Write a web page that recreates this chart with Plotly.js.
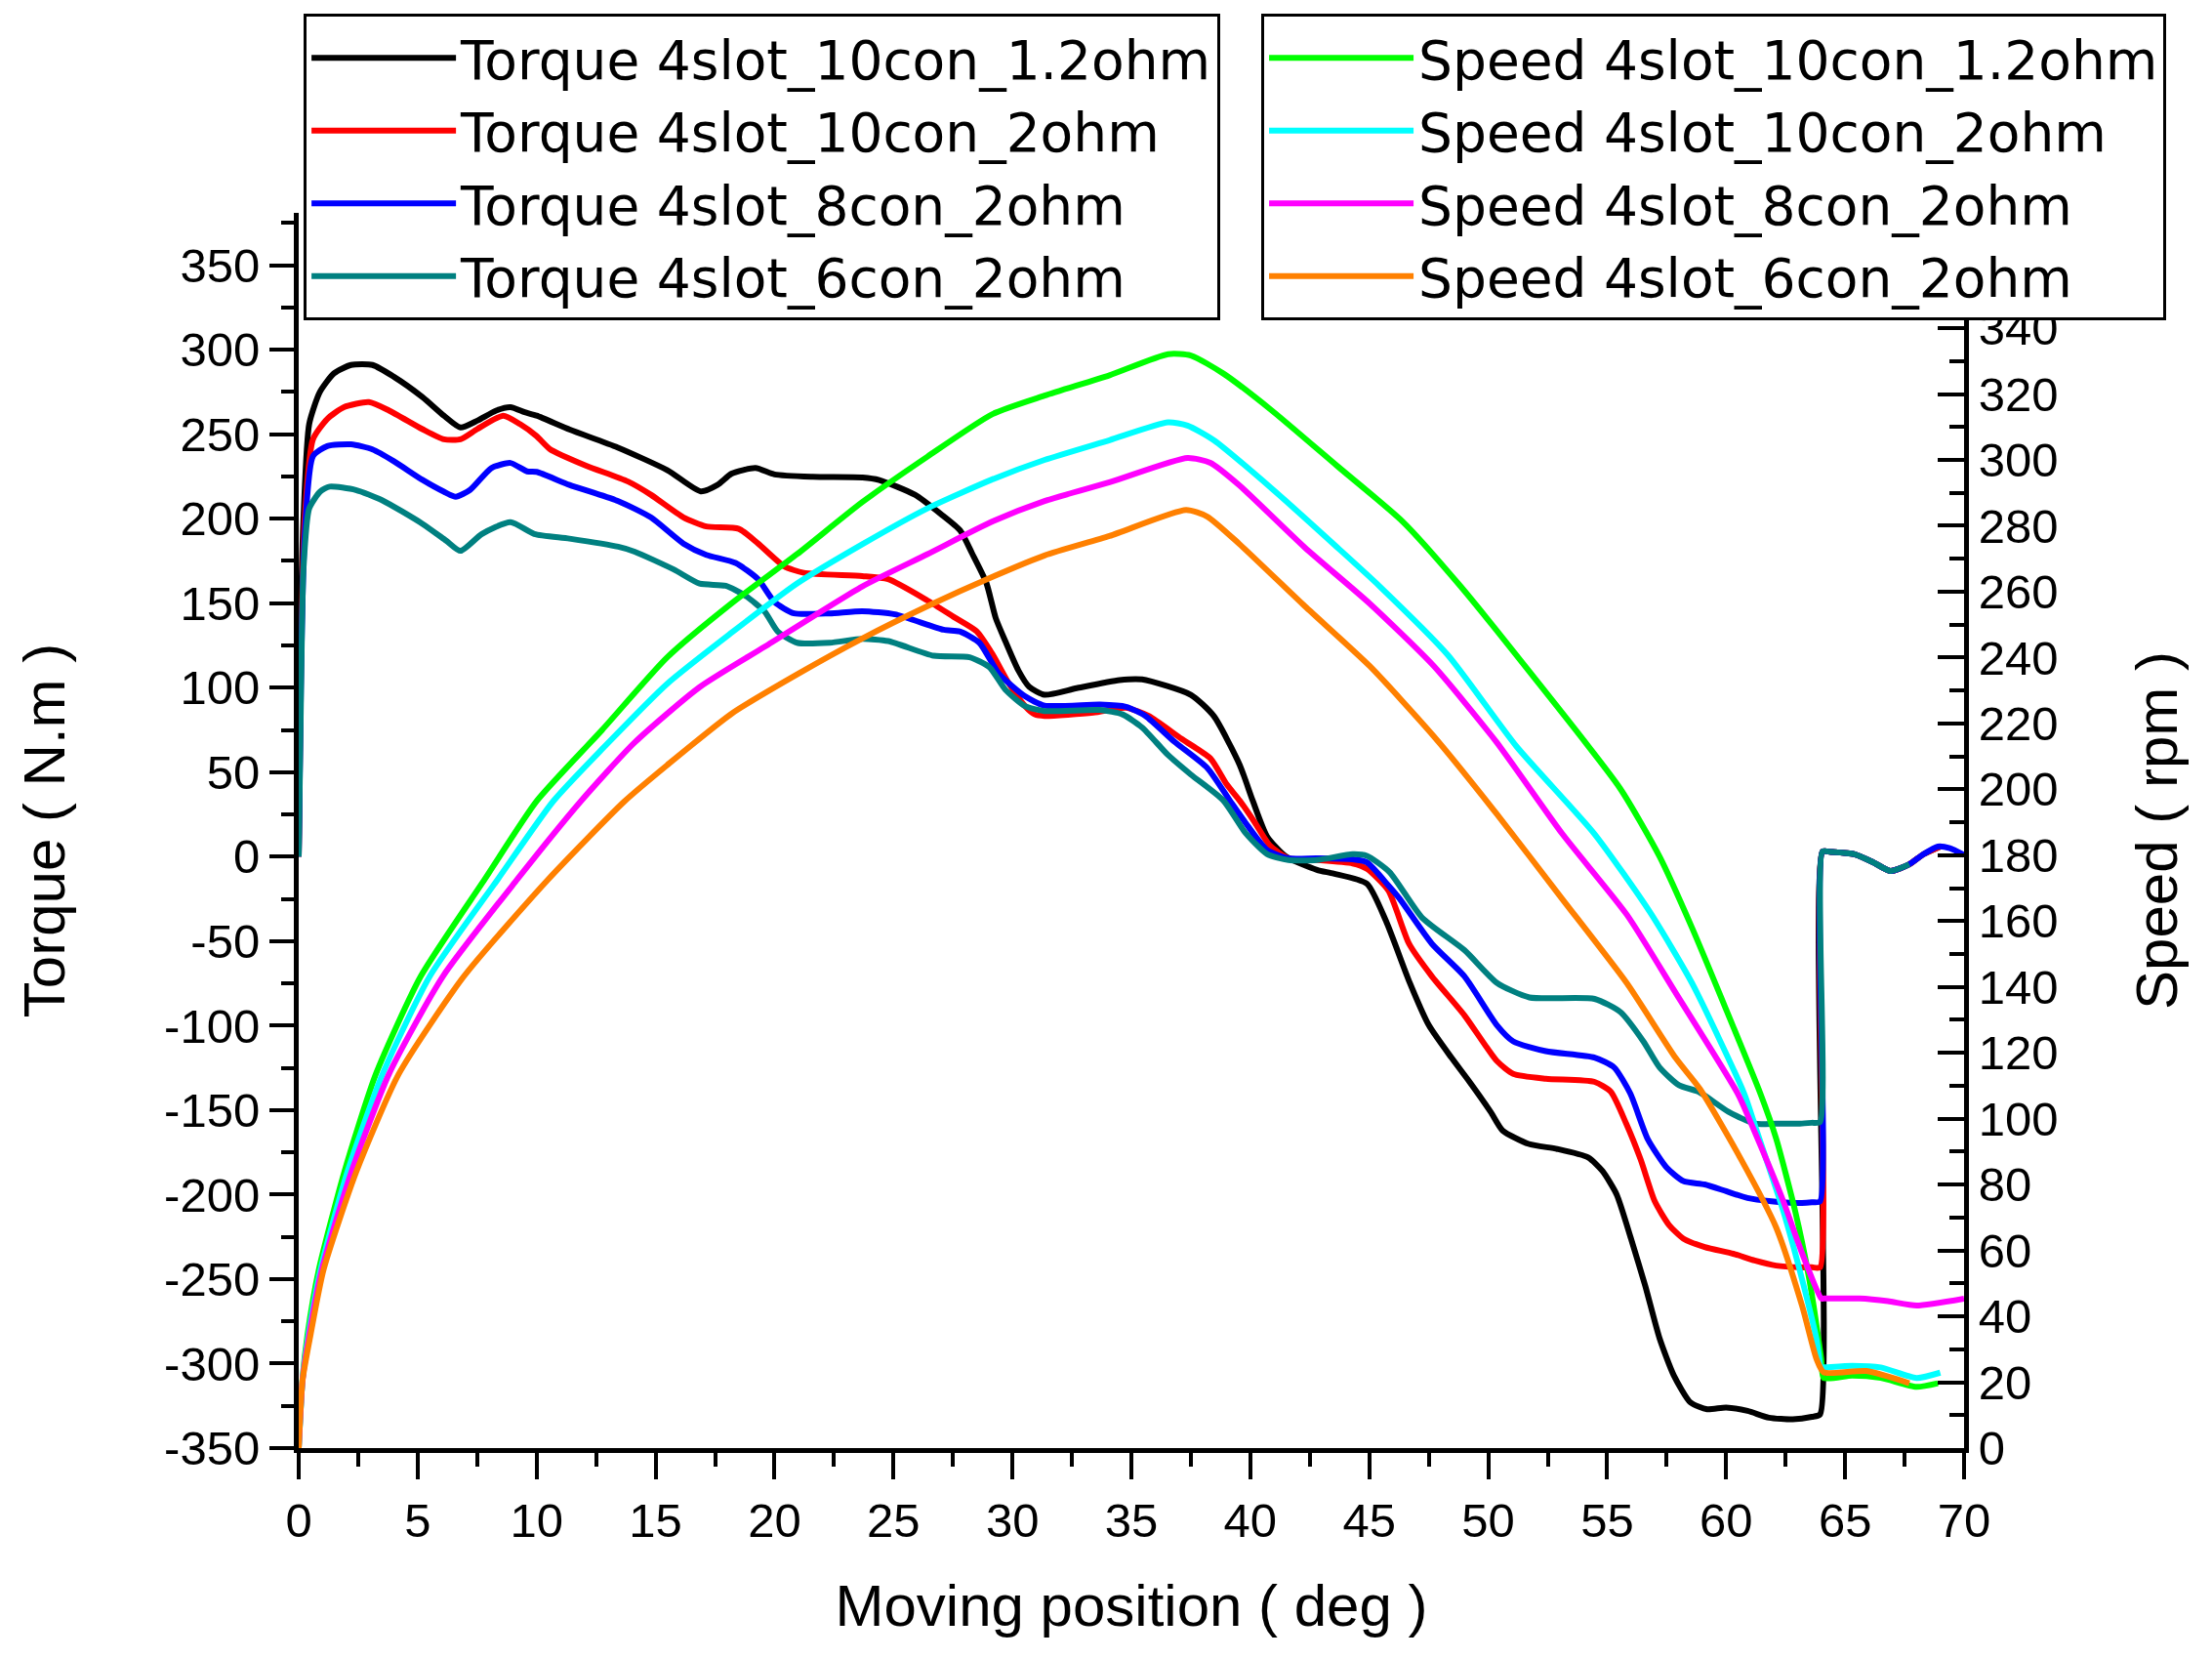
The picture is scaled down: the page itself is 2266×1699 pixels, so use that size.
<!DOCTYPE html>
<html>
<head>
<meta charset="utf-8">
<script src="https://cdn.plot.ly/plotly-3.0.1.min.js"></script>
<style>
  html, body { margin: 0; padding: 0; background: #ffffff; }
  #chart { width: 2266px; height: 1699px; }
</style>
</head>
<body>
<div id="chart"></div>
<script>
// ---- Torque 4slot_10con_1.2ohm ----
const posTorque10con12 = [0,0.1,0.2,0.44,0.89,1.48,2.2,3.1,4.0,5.2,6.1,6.8,7.5,8.3,8.9,9.5,10.0,11.4,13.4,15.5,16.9,17.6,18.2,19.2,20.0,21.6,23.7,24.4,25.9,27.0,27.8,28.3,28.9,29.3,29.7,30.25,30.7,31.35,32.7,34.5,35.45,37.5,38.46,39.55,40.1,40.7,41.5,42.8,43.5,44.9,45.7,46.7,47.5,48.45,49.2,50.1,50.6,51.7,52.9,54.2,54.8,55.4,56.0,56.6,57.2,57.8,58.5,59.2,60.0,60.9,61.8,62.8,63.6,63.95,64.05,64.4,65.4,66.2,66.9,67.7,68.3,69.0];
const torque10con12 = [0,150,200,256,275,286,291,291,284,272,261,254,258,264,266,263,261,252.7,242.2,228.7,216.2,220,226.7,230,226.2,224.8,224.4,222.9,214.2,202.7,193.1,179.6,162.2,141.1,127.6,110.2,100.6,95.8,99.7,104.5,104.9,95.8,83.3,54.4,33.2,12,0,-7.8,-10,-16,-38,-74.6,-99.7,-118.9,-133,-151,-162,-170,-173,-178,-186,-200,-226,-254,-285,-307,-323,-327,-326,-328,-332,-333,-331.5,-330,3,2.8,1.4,-3.5,-8.5,-4.5,1.5,6];

// ---- Torque 4slot_10con_2ohm ----
const posTorque10con2 = [0,0.1,0.25,0.6,1.2,1.9,2.95,3.8,5.2,6.1,6.8,7.5,8.6,9.3,10.0,10.56,12.06,13.84,14.8,16.17,17.13,18.5,19.31,20.4,21.23,23.69,24.78,26.43,27.52,28.5,29.16,29.85,30.53,30.94,31.35,33.4,34.77,35.73,37.1,38.32,39.0,39.55,40.2,40.8,41.6,42.8,44.3,44.9,45.8,46.67,47.63,49.0,50.36,51.05,52.42,54.47,55.15,55.8,56.4,57.0,57.6,58.2,59.1,60.3,61.2,62.1,63.1,63.6,63.95,64.05,64.4,65.4,66.2,66.9,67.7,68.3,69.0];
const torque10con2 = [0,120,200,247,259,266,269,264,253,247,247,253,261,256,248.9,241.2,231.5,222,214.2,200.8,195.4,194,185.3,171.9,168,166.1,164.2,151.6,142,133.3,119.9,102.5,89.1,84.2,83.3,85.2,88.1,83.3,69.8,58.2,42.9,33.2,20,7,-1,-2,-4,-7.2,-20,-51.5,-70.8,-93.9,-120.9,-128.5,-131.4,-133.3,-139.1,-158,-179,-204,-218,-226,-231,-235,-239,-242,-243,-243,-243,3,2.8,1.4,-3.5,-8.5,-4.5,1.5,6];

// ---- Torque 4slot_8con_2ohm ----
const posTorque8con2 = [0,0.1,0.25,0.6,1.2,2.2,3.1,4.0,5.2,6.1,6.6,7.2,8.1,8.9,9.6,10.0,11.38,13.43,14.8,16.17,17.13,18.36,19.31,20.0,20.82,22.32,23.69,25.06,27.11,27.78,28.61,29.43,30.53,31.35,33.68,34.77,35.59,36.82,38.19,39.14,39.8,40.7,41.6,42.8,44.3,44.9,45.8,46.26,47.63,49.0,50.36,51.05,52.42,54.47,55.29,55.97,56.7,57.5,58.2,59.1,60.0,60.9,61.9,62.9,63.6,63.95,64.05,64.4,65.4,66.2,66.9,67.7,68.3,68.9,69.4,70.0];
const torque8con2 = [0,110,190,237,243,244,241,234,223,216,213,217,230,233,228,227.7,220,210.4,200.8,185.3,178.6,173.8,164.2,150.7,144,144,145.3,143.4,134.3,133.3,126.6,108.3,94.9,89.4,90,88.7,83.3,67.9,52.5,33.2,20,4,-1,-1,-1.6,-3.4,-17,-24.6,-51.5,-70.8,-99.7,-109.3,-115.1,-118.9,-124.7,-140.1,-167,-184,-192,-194,-198,-202,-204,-205,-204.5,-204,3,2.8,1.4,-3.5,-8.5,-4.5,1.5,6,5,1];

// ---- Torque 4slot_6con_2ohm ----
const posTorque6con2 = [0,0.1,0.2,0.44,0.9,1.3,2.4,3.5,5.2,6.2,6.8,7.7,8.9,9.9,11.38,13.43,14.12,15.76,16.85,17.95,18.77,19.59,20.13,20.95,22.32,23.69,24.78,26.69,28.2,29.03,29.71,30.53,31.35,33.68,34.63,35.45,36.54,37.5,38.87,39.8,40.7,41.6,42.8,44.3,44.9,45.85,47.22,49.0,50.36,51.73,54.47,55.56,56.52,57.2,58.02,58.84,60.1,61.2,62.1,63.1,63.6,63.95,64.05,64.4,65.4,66.2,66.9,67.7];
const torque6con2 = [0,100,170,206,216,219,217,211,197,187,181,191,198,191,188.2,183.4,180.5,170,161.6,160.3,154.5,144.9,133.3,126.6,126.6,128.9,127.6,118.9,118,112.2,98.7,89.1,86.2,86.8,84.2,76.5,60.2,48.6,33.2,14,1.6,-2,-2,1.5,0.5,-9.1,-36.1,-55.3,-74.6,-83.3,-84.2,-92,-109.3,-124.7,-135.3,-139.1,-151,-158,-158,-158,-157.5,-157,3,2.8,1.4,-3.5,-8.5,-4.5];

// ---- Speed 4slot_10con_1.2ohm ----
const posSpeed10con12 = [0,0.16,0.37,0.85,1.92,3.24,5.12,7.82,10.01,12.75,15.48,18.22,20.95,23.69,26.43,29.16,31.35,34.08,36.54,37.5,38.87,40.92,43.66,46.4,48.84,51.71,55.53,57.2,58.57,59.94,61.44,62.1,62.9,63.5,64.0,64.1,65.3,66.5,68.0,68.9];
const speed10con12 = [0,21,34.5,54.3,83.9,113.5,143.1,172.7,196.5,218,240,256.6,271.4,287.2,301,313.9,319.5,325.7,332.1,331.7,326.2,314.9,298.1,281.3,261.6,235.9,200.4,179.6,157.9,134.2,107.6,94,72,51,27,21.3,22,21.3,18.6,19.7];

// ---- Speed 4slot_10con_2ohm ----
const posSpeed10con2 = [0,0.16,0.4,0.92,2.05,3.52,5.5,8.37,10.7,12.75,15.48,18.22,20.95,23.69,26.43,29.16,31.35,34.08,36.54,37.36,38.46,40.92,43.66,45.44,48.3,51.19,54.45,56.78,58.57,60.76,61.3,62.4,63.2,63.8,64.0,64.1,65.3,66.5,68.0,69.0];
const speed10con2 = [0,20.7,34,54.3,83.9,113.5,143.1,172.7,196.4,212.2,232,247.7,262.5,274.4,285.3,294.1,300,306,311.4,310.4,306,291.2,273.4,261.6,240.8,213,186.6,162.9,141.1,107.6,96,72,51,33,24.5,24.5,25,24.5,21.3,22.9];

// ---- Speed 4slot_8con_2ohm ----
const posSpeed8con2 = [0,0.16,0.42,0.98,2.22,3.79,6.05,9.19,11.86,14.12,16.85,19.59,23.69,26.43,29.16,31.35,34.08,37.36,38.32,39.55,42.29,45.0,47.7,50.36,53.1,55.83,57.88,60.49,61.2,62.4,63.2,64.0,64.1,65.6,66.8,68.0,70.0];
const speed8con2 = [0,20.5,33.5,54.3,83.9,113.5,143.1,172.7,196.4,214.2,231,243.3,261.6,271.4,281.3,287.5,293.2,300.6,299.1,292.2,273.4,256.5,237.5,214.2,186.6,161.9,138.2,107.6,96,75,59,45.4,45.4,45.4,44.6,43.3,45.4];

// ---- Speed 4slot_6con_2ohm ----
const posSpeed6con2 = [0,0.16,0.5,1.05,2.42,4.2,6.93,10.49,13.7,15.48,18.22,20.95,23.69,26.43,29.16,31.35,34.08,37.3,38.19,39.55,42.29,45.02,47.7,50.36,53.1,55.83,57.88,58.9,60.6,62.1,63.2,63.8,64.1,65.9,67.7];
const speed6con2 = [0,20.5,34.5,54.3,83.9,113.5,143.1,172.7,196.4,207.3,223.1,234.9,245.8,255.6,264.5,271,276.9,284.8,282.8,274.4,255.6,237.4,216.2,192.5,166.8,141.1,118.4,109,88,67,43,27,23,23.4,19.7];

// ---- labels and tick labels ----
const seriesNames = [
  'Torque 4slot_10con_1.2ohm', 'Torque 4slot_10con_2ohm', 'Torque 4slot_8con_2ohm', 'Torque 4slot_6con_2ohm',
  'Speed 4slot_10con_1.2ohm', 'Speed 4slot_10con_2ohm', 'Speed 4slot_8con_2ohm', 'Speed 4slot_6con_2ohm'
];
const xTitle = 'Moving position ( deg )';
const yTitle = 'Torque ( N.m )';
const y2Title = 'Speed ( rpm )';

const torqueTickVals = [-350,-300,-250,-200,-150,-100,-50,0,50,100,150,200,250,300,350];
const torqueTickText = ['-350','-300','-250','-200','-150','-100','-50','0','50','100','150','200','250','300','350'];
const speedTickVals = [0,20,40,60,80,100,120,140,160,180,200,220,240,260,280,300,320,340];
const speedTickText = ['0','20','40','60','80','100','120','140','160','180','200','220','240','260','280','300','320','340'];

const colors = ['#000000', '#ff0000', '#0000ff', '#008080', '#00ff00', '#00ffff', '#ff00ff', '#ff8000'];
const LW = 6;

function mk(x, y, i, yaxis, legend) {
  return {
    type: 'scatter', mode: 'lines', x: x, y: y, name: seriesNames[i],
    yaxis: yaxis, legend: legend,
    line: { color: colors[i], width: LW, shape: 'spline', smoothing: 0.6 },
    hoverinfo: 'skip'
  };
}

const traces = [
  mk(posTorque10con12, torque10con12, 0, 'y', 'legend'),
  mk(posTorque10con2, torque10con2, 1, 'y', 'legend'),
  mk(posTorque8con2, torque8con2, 2, 'y', 'legend'),
  mk(posTorque6con2, torque6con2, 3, 'y', 'legend'),
  mk(posSpeed10con12, speed10con12, 4, 'y2', 'legend2'),
  mk(posSpeed10con2, speed10con2, 5, 'y2', 'legend2'),
  mk(posSpeed8con2, speed8con2, 6, 'y2', 'legend2'),
  mk(posSpeed6con2, speed6con2, 7, 'y2', 'legend2')
];

const FONT = 'Arial, "Liberation Sans", sans-serif';
const LFONT = '"DejaVu Sans", Arial, sans-serif';

const axisCommon = {
  showline: true, linecolor: '#000000', linewidth: 5,
  tickcolor: '#000000', tickwidth: 4,
  showgrid: false, zeroline: false, automargin: false,
  tickfont: { family: FONT, size: 49, color: '#000000' }
};

const legendCommon = {
  xanchor: 'left', yanchor: 'top',
  bgcolor: '#ffffff', bordercolor: '#000000', borderwidth: 3,
  font: { family: LFONT, size: 55, color: '#000000' },
  itemwidth: 148, tracegroupgap: 0
};

const layout = {
  width: 2266, height: 1699,
  margin: { l: 306, r: 254, t: 218, b: 216, pad: 0 },
  paper_bgcolor: '#ffffff', plot_bgcolor: '#ffffff',
  font: { family: FONT, color: '#000000', size: 49 },
  showlegend: true,
  xaxis: Object.assign({}, axisCommon, {
    range: [0, 70], autorange: false, tick0: 0, dtick: 5,
    ticks: 'outside', ticklen: 27,
    minor: { tick0: 0, dtick: 2.5, ticks: 'outside', ticklen: 14, tickwidth: 4, tickcolor: '#000000', showgrid: false },
    title: { text: xTitle, font: { family: FONT, size: 60, color: '#000000' }, standoff: 42 }
  }),
  yaxis: Object.assign({}, axisCommon, {
    range: [-350, 381], autorange: false,
    tickmode: 'array', tickvals: torqueTickVals, ticktext: torqueTickText,
    ticks: 'outside', ticklen: 25,
    minor: { tick0: 0, dtick: 25, ticks: 'outside', ticklen: 13, tickwidth: 4, tickcolor: '#000000', showgrid: false },
    title: { text: yTitle, font: { family: FONT, size: 60, color: '#000000' }, standoff: 84 }
  }),
  yaxis2: Object.assign({}, axisCommon, {
    overlaying: 'y', side: 'right',
    range: [0, 375], autorange: false,
    tickmode: 'array', tickvals: speedTickVals, ticktext: speedTickText,
    ticks: 'inside', ticklen: 27,
    minor: { tick0: 0, dtick: 10, ticks: 'inside', ticklen: 15, tickwidth: 4, tickcolor: '#000000', showgrid: false },
    title: { text: y2Title, font: { family: FONT, size: 60, color: '#000000' }, standoff: 82 }
  }),
  legend: Object.assign({}, legendCommon, { x: 0.003, y: 1.1612 }),
  legend2: Object.assign({}, legendCommon, { x: 0.578, y: 1.1612 })
};

Plotly.newPlot('chart', traces, layout, { staticPlot: true, displayModeBar: false });
</script>
</body>
</html>
